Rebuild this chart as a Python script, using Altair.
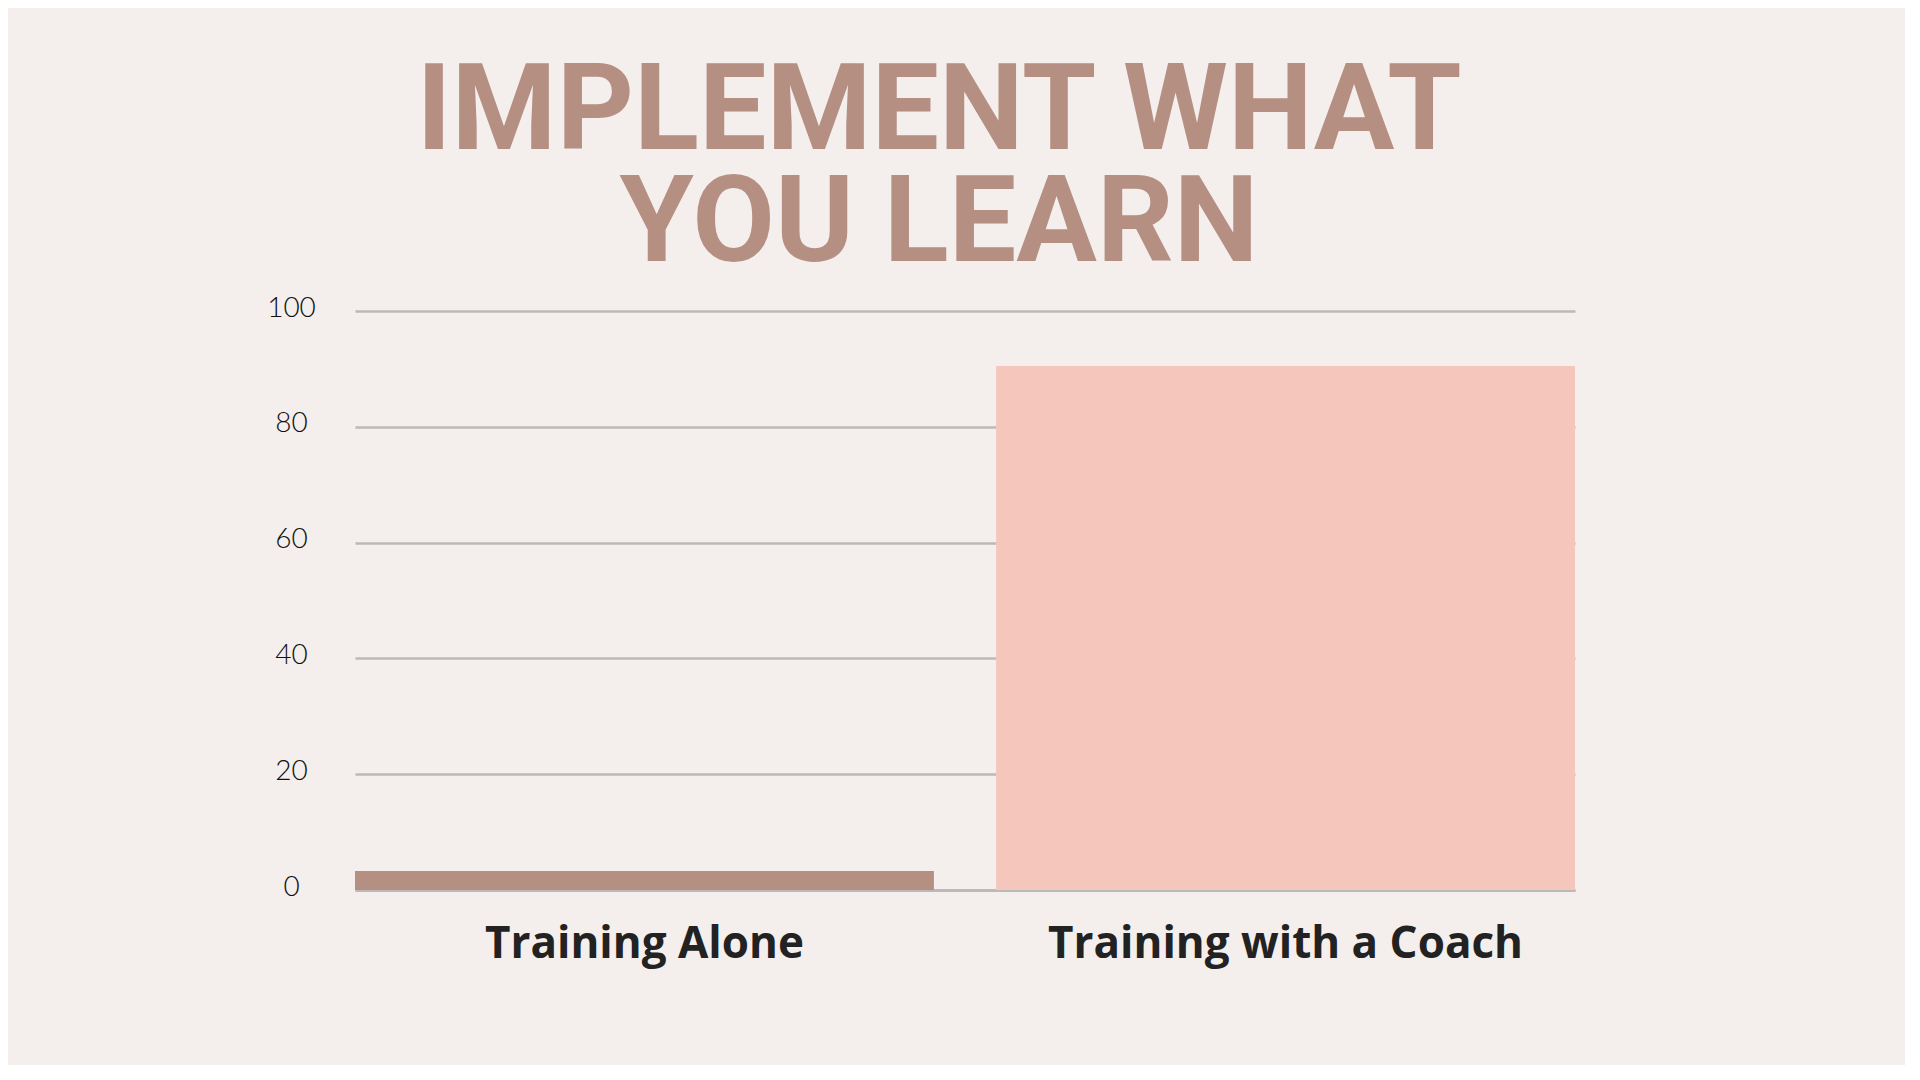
import altair as alt
import pandas as pd

categories = ["Training Alone", "Training with a Coach"]
values = [3.3, 90.5]
bar_colors = ["#B68F83", "#F4C6BC"]
title_lines = ["IMPLEMENT WHAT", "YOU LEARN"]
y_ticks = [0, 20, 40, 60, 80, 100]

df = pd.DataFrame({"category": categories, "value": values})

chart = (
    alt.Chart(df)
    .mark_bar()
    .encode(
        x=alt.X(
            "category:N",
            sort=categories,
            scale=alt.Scale(paddingInner=0.097, paddingOuter=0),
            axis=alt.Axis(
                title=None,
                labelAngle=0,
                labelFont="Open Sans",
                labelFontWeight="bold",
                labelFontSize=44,
                labelColor="#222222",
                labelPadding=32,
                labelBaseline="top",
                labelLimit=0,
                ticks=False,
                tickSize=0,
                domain=True,
                domainColor="#BDB9B7",
                domainWidth=3,
                grid=False,
            ),
        ),
        y=alt.Y(
            "value:Q",
            scale=alt.Scale(domain=[0, 100], nice=False),
            axis=alt.Axis(
                title=None,
                values=y_ticks,
                labelFont="Lato",
                labelFontWeight=300,
                labelFontSize=28,
                labelColor="#111111",
                labelAlign="center",
                labelBaseline="middle",
                labelPadding=64,
                labelOffset=-3,
                ticks=False,
                tickSize=0,
                domain=False,
                grid=True,
                gridColor="#BDB9B7",
                gridWidth=2.5,
            ),
        ),
        color=alt.Color(
            "category:N",
            scale=alt.Scale(domain=categories, range=bar_colors),
            legend=None,
        ),
    )
    .properties(
        width=1220,
        height=579,
        title=alt.TitleParams(
            text=title_lines,
            font="Roboto",
            fontWeight="bold",
            fontSize=120,
            lineHeight=112,
            color="#B68F83",
            anchor="middle",
            frame="group",
            baseline="bottom",
            offset=28,
            dx=-26,
            dy=140,
        ),
        autosize=alt.AutoSizeParams(type="none"),
        padding={"left": 347, "top": 303, "right": 330, "bottom": 175},
        background="#F4EFEC",
    )
    .configure_view(stroke=None)
)

chart.save("out.html", embed_options={"renderer": "svg", "actions": False})
